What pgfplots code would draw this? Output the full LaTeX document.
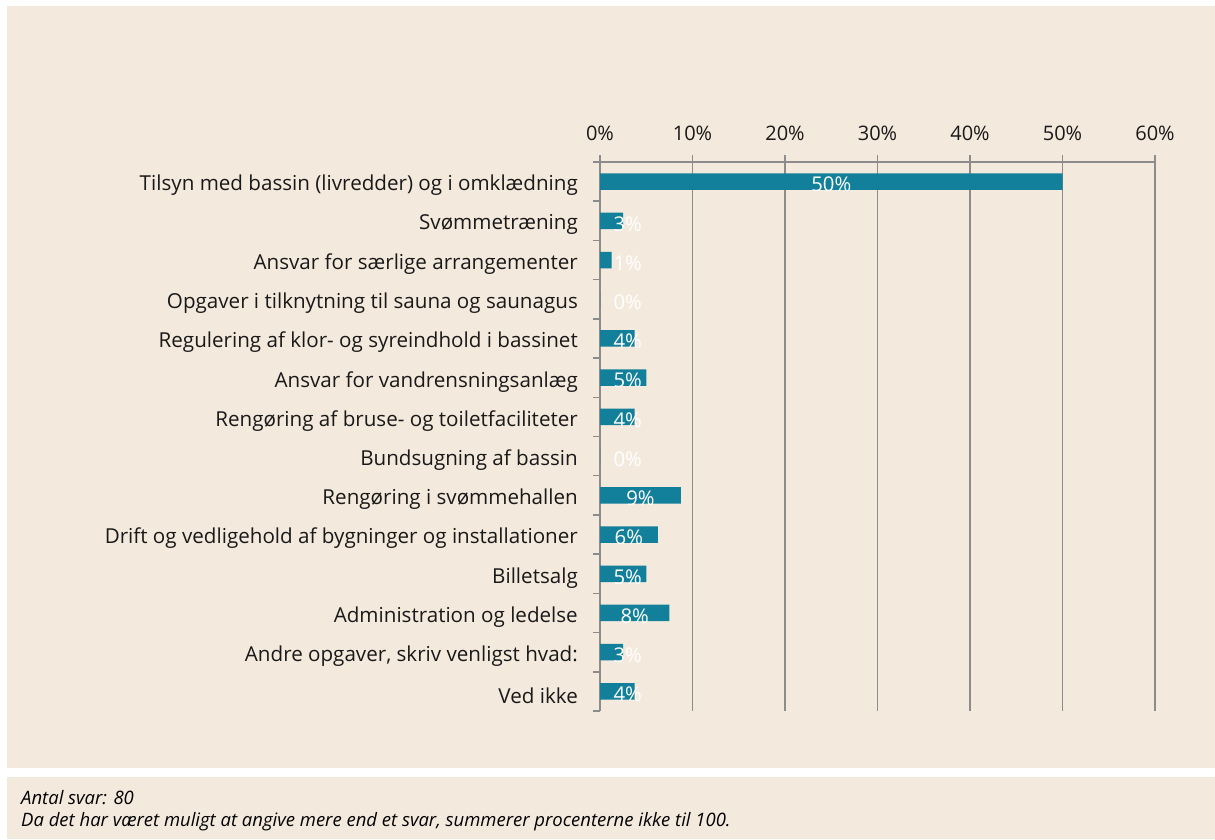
\documentclass[border=0pt]{standalone}
\usepackage{pgfplots}
\pgfplotsset{compat=1.18}
\usepackage{fontspec}
\setmainfont{Open Sans}
\definecolor{bg}{RGB}{244,233,221}
\definecolor{barc}{RGB}{18,128,155}
\definecolor{gridc}{RGB}{140,140,140}
\begin{document}
\begin{tikzpicture}
\fill[white] (0pt,0pt) rectangle (1215pt,839pt);
\fill[bg] (7pt,71pt) rectangle (1215pt,833pt);
\fill[bg] (7pt,0pt) rectangle (1215pt,62pt);
\begin{axis}[
  at={(600pt,677pt)}, anchor=north west,
  width=555pt, height=549pt, scale only axis,
  xmin=0, xmax=60, ymin=-0.5, ymax=13.5, y dir=reverse,
  axis x line*=top, axis y line*=left,
  axis line style={gridc, line width=1.3pt},
  xtick={0,10,...,60},
  xticklabels={0\%,10\%,20\%,30\%,40\%,50\%,60\%},
  xmajorgrids, major grid style={gridc, line width=1.3pt},
  major tick length=7pt, tick align=outside,
  xtick style={gridc, line width=1.3pt},
  ytick style={gridc, line width=1.5pt},
  ytick={-0.5,0.5,1.5,2.5,3.5,4.5,5.5,6.5,7.5,8.5,9.5,10.5,11.5,12.5,13.5},
  y tick label as interval,
  yticklabels={Tilsyn med bassin (livredder) og i omklædning,Svømmetræning,Ansvar for særlige arrangementer,Opgaver i tilknytning til sauna og saunagus,Regulering af klor- og syreindhold i bassinet,Ansvar for vandrensningsanlæg,Rengøring af bruse- og toiletfaciliteter,Bundsugning af bassin,Rengøring i svømmehallen,Drift og vedligehold af bygninger og installationer,Billetsalg,Administration og ledelse,{Andre opgaver, skriv venligst hvad:},Ved ikke,{}},
  yticklabel style={anchor=east, inner sep=0pt, xshift=-15pt, yshift=-4pt, font=\fontsize{20.6}{24}\selectfont},
  tick label style={font=\fontsize{20}{24}\selectfont, text=black!90},
  xticklabel style={inner sep=0pt, yshift=14pt},
  clip=false,
]
\addplot[xbar, bar width=16.5pt, bar shift=0pt, fill=barc, draw=none]
  coordinates {(50,0) (2.5,1) (1.25,2) (0,3) (3.75,4) (5,5) (3.75,6) (0,7) (8.75,8) (6.25,9) (5,10) (7.5,11) (2.5,12) (3.75,13)};
\addplot[draw=none, mark=none, point meta=explicit symbolic,
  nodes near coords={\pgfplotspointmeta\%},
  every node near coord/.append style={anchor=center, text=white, yshift=-3pt, font=\fontsize{20.3}{24}\selectfont}]
  table[meta=lab] {
x y lab
25 0 50
3 1 3
3 2 1
3 3 0
3 4 4
3 5 5
3 6 4
3 7 0
4.375 8 9
3.125 9 6
3 10 5
3.75 11 8
3 12 3
3 13 4
};
\end{axis}
\node[anchor=west, inner sep=0pt, font=\itshape\fontsize{18.5}{22}\selectfont] at (21pt,41pt) {Antal svar: 80};
\node[anchor=west, inner sep=0pt, font=\itshape\fontsize{18.5}{22}\selectfont] at (21pt,17pt) {Da det har været muligt at angive mere end et svar, summerer procenterne ikke til 100.};
\end{tikzpicture}
\end{document}
